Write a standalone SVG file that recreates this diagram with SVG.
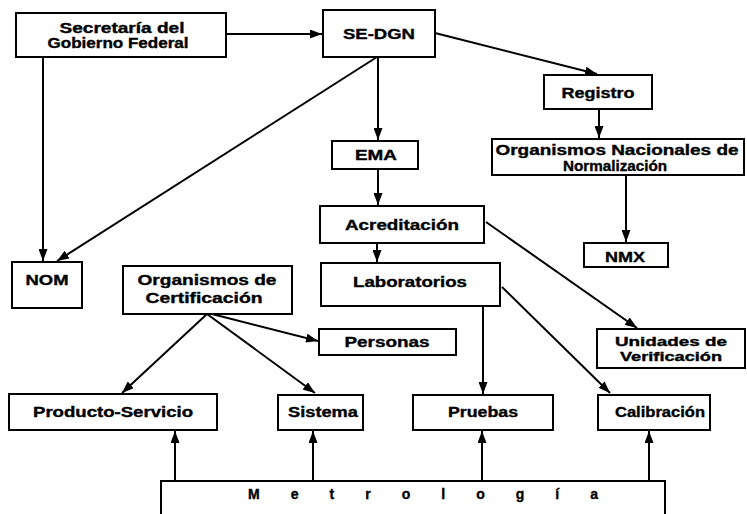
<svg xmlns="http://www.w3.org/2000/svg" width="747" height="514" viewBox="0 0 747 514">
<style>
.box{fill:#fff;stroke:#000;stroke-width:2}
.t{font-family:"Liberation Sans",Arial,Helvetica,sans-serif;font-weight:bold;font-size:14px;fill:#000;stroke:#000;stroke-width:0.35;text-anchor:middle}
.s{font-size:12px}
.c{fill:none;stroke:#000;stroke-width:2}
</style>
<defs>
<marker id="ah" viewBox="0 0 12 9" refX="12" refY="4.5" markerWidth="12" markerHeight="9" orient="auto" markerUnits="userSpaceOnUse"><path d="M0,0 L12,4.5 L0,9 z" fill="#000"/></marker>
</defs>
<rect x="0" y="0" width="747" height="514" fill="#fff"/>
<g id="connectors">
<line class="c" x1="226" y1="34" x2="322" y2="34" marker-end="url(#ah)"/>
<line class="c" x1="43" y1="57" x2="43" y2="261" marker-end="url(#ah)"/>
<line class="c" x1="377" y1="57" x2="57" y2="261" marker-end="url(#ah)"/>
<line class="c" x1="435" y1="33" x2="597" y2="74" marker-end="url(#ah)"/>
<line class="c" x1="378" y1="57" x2="378" y2="140" marker-end="url(#ah)"/>
<line class="c" x1="599" y1="109" x2="599" y2="138" marker-end="url(#ah)"/>
<line class="c" x1="378" y1="169" x2="378" y2="205" marker-end="url(#ah)"/>
<line class="c" x1="626" y1="175" x2="626" y2="242" marker-end="url(#ah)"/>
<line class="c" x1="377" y1="243" x2="377" y2="262" marker-end="url(#ah)"/>
<line class="c" x1="486" y1="222" x2="637" y2="328" marker-end="url(#ah)"/>
<line class="c" x1="502" y1="287" x2="610" y2="393" marker-end="url(#ah)"/>
<line class="c" x1="483" y1="306" x2="483" y2="394" marker-end="url(#ah)"/>
<line class="c" x1="207" y1="314" x2="122" y2="393" marker-end="url(#ah)"/>
<line class="c" x1="207" y1="314" x2="315" y2="393" marker-end="url(#ah)"/>
<line class="c" x1="212" y1="314" x2="318" y2="341" marker-end="url(#ah)"/>
<line class="c" x1="175" y1="481" x2="175" y2="431" marker-end="url(#ah)"/>
<line class="c" x1="313" y1="481" x2="313" y2="431" marker-end="url(#ah)"/>
<line class="c" x1="482" y1="481" x2="482" y2="431" marker-end="url(#ah)"/>
<line class="c" x1="649" y1="481" x2="649" y2="431" marker-end="url(#ah)"/>
</g>
<g id="secretaria">
<rect class="box" x="16" y="13" width="210" height="44"/>
<text class="t" x="122" y="33" textLength="125" lengthAdjust="spacingAndGlyphs">Secretaría del</text>
<text class="t" x="118" y="48" textLength="141" lengthAdjust="spacingAndGlyphs">Gobierno Federal</text>
</g>
<g id="se-dgn">
<rect class="box" x="323" y="10" width="112" height="47"/>
<text class="t" x="379" y="38.5" style="font-size:15px" textLength="72" lengthAdjust="spacingAndGlyphs">SE-DGN</text>
</g>
<g id="registro">
<rect class="box" x="544" y="75" width="108" height="34"/>
<text class="t" x="598" y="98" textLength="73" lengthAdjust="spacingAndGlyphs">Registro</text>
</g>
<g id="onn">
<rect class="box" x="492" y="139" width="252" height="36"/>
<text class="t" x="617" y="155" textLength="243" lengthAdjust="spacingAndGlyphs">Organismos Nacionales de</text>
<text class="t" x="615" y="171" textLength="104" lengthAdjust="spacingAndGlyphs">Normalización</text>
</g>
<g id="ema">
<rect class="box" x="332" y="141" width="86" height="28"/>
<text class="t" x="376" y="160" textLength="42" lengthAdjust="spacingAndGlyphs">EMA</text>
</g>
<g id="acreditacion">
<rect class="box" x="320" y="206" width="164" height="37"/>
<text class="t" x="402" y="230" textLength="114" lengthAdjust="spacingAndGlyphs">Acreditación</text>
</g>
<g id="nmx">
<rect class="box" x="584" y="243" width="84" height="24"/>
<text class="t" x="625" y="262" textLength="40" lengthAdjust="spacingAndGlyphs">NMX</text>
</g>
<g id="laboratorios">
<rect class="box" x="321" y="263" width="179" height="43"/>
<text class="t" x="410" y="287" textLength="114" lengthAdjust="spacingAndGlyphs">Laboratorios</text>
</g>
<g id="nom">
<rect class="box" x="12" y="262" width="70" height="46"/>
<text class="t" x="47" y="285" textLength="43" lengthAdjust="spacingAndGlyphs">NOM</text>
</g>
<g id="org-certificacion">
<rect class="box" x="123" y="266" width="169" height="48"/>
<text class="t" x="207" y="285" textLength="139" lengthAdjust="spacingAndGlyphs">Organismos de</text>
<text class="t" x="204" y="303" textLength="117" lengthAdjust="spacingAndGlyphs">Certificación</text>
</g>
<g id="personas">
<rect class="box" x="319" y="329" width="137" height="26"/>
<text class="t" x="387" y="347" textLength="85" lengthAdjust="spacingAndGlyphs">Personas</text>
</g>
<g id="unidades">
<rect class="box" x="597" y="329" width="148" height="39"/>
<text class="t s" x="671" y="346" textLength="112" lengthAdjust="spacingAndGlyphs">Unidades de</text>
<text class="t s" x="671" y="360.5" textLength="102" lengthAdjust="spacingAndGlyphs">Verificación</text>
</g>
<g id="producto-servicio">
<rect class="box" x="9" y="394" width="208" height="36"/>
<text class="t" x="113" y="417" textLength="160" lengthAdjust="spacingAndGlyphs">Producto-Servicio</text>
</g>
<g id="sistema">
<rect class="box" x="278" y="395" width="85" height="35"/>
<text class="t" x="323" y="417" textLength="70" lengthAdjust="spacingAndGlyphs">Sistema</text>
</g>
<g id="pruebas">
<rect class="box" x="413" y="395" width="140" height="35"/>
<text class="t" x="483" y="417" textLength="70" lengthAdjust="spacingAndGlyphs">Pruebas</text>
</g>
<g id="calibracion">
<rect class="box" x="598" y="395" width="112" height="35"/>
<text class="t" x="660" y="417" textLength="90" lengthAdjust="spacingAndGlyphs">Calibración</text>
</g>
<g id="metrologia">
<rect class="box" x="161" y="481" width="504" height="45"/>
<text class="t" x="248" y="499" style="text-anchor:start" textLength="350" lengthAdjust="spacing">Metrología</text>
</g>
</svg>
